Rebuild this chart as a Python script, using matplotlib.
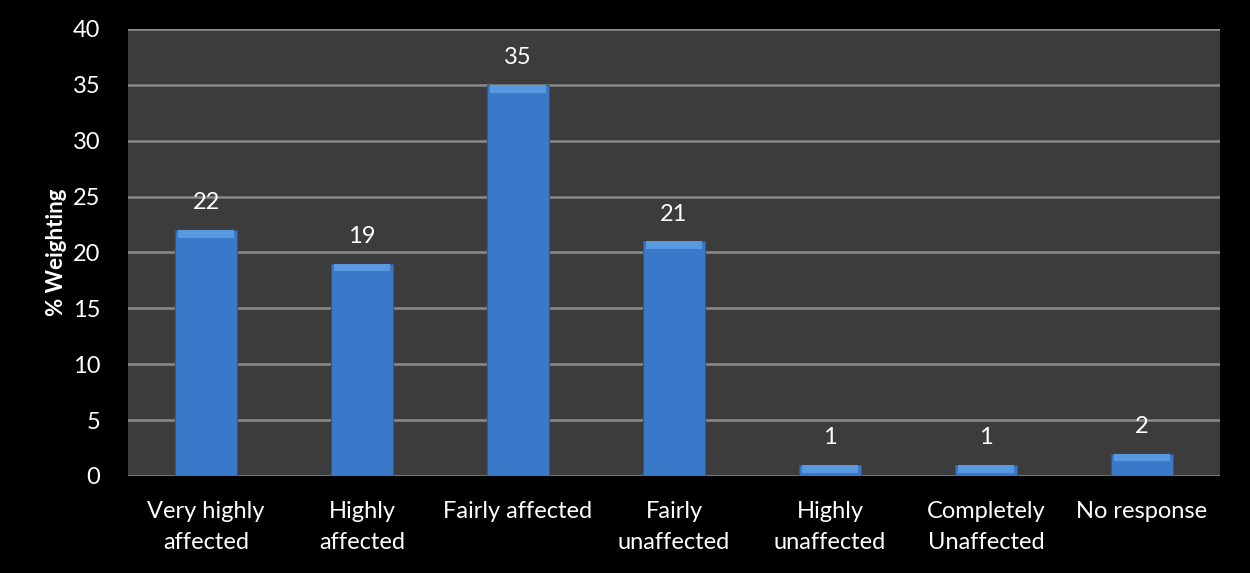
import numpy as np
import matplotlib.pyplot as plt

plt.rcParams['font.family'] = ['Lato', 'DejaVu Sans']

categories = ['Very highly\naffected', 'Highly\naffected', 'Fairly affected',
              'Fairly\nunaffected', 'Highly\nunaffected', 'Completely\nUnaffected',
              'No response']
values = [22, 19, 35, 21, 1, 1, 2]

fig = plt.figure(figsize=(12.5, 5.73), dpi=100, facecolor='black')
ax = fig.add_axes([0.1024, 0.1693, 0.8736, 0.7801])
ax.set_facecolor('#3c3c3c')

x = np.arange(len(categories))
w = 0.4
ax.bar(x, values, width=w, color='#3a78c9', edgecolor='#2a5a9a', linewidth=0.8, zorder=3)
# lighter bevel strip on top of each bar
bevel = [min(v, 0.7) for v in values]
ax.bar(x, bevel, width=w * 0.9, bottom=np.array(values) - np.array(bevel),
       color='#5a98e2', linewidth=0, zorder=4)

for xi, v in zip(x, values):
    ax.annotate(str(v), (xi, v), xytext=(0, 12), textcoords='offset points',
                ha='center', va='bottom', color='white', fontsize=17)

ax.set_xlim(-0.5, len(categories) - 0.5)
ax.set_ylim(0, 40)
ax.set_yticks(range(0, 41, 5))
ax.yaxis.grid(True, color='#8a8a8a', linewidth=1.8, zorder=0)
ax.set_axisbelow(True)
ax.set_xticks(x)
ax.set_xticklabels(categories, linespacing=1.6)
ax.tick_params(colors='white', labelsize=17, length=0)
ax.tick_params(axis='x', pad=18)
ax.tick_params(axis='y', pad=20)
for s in ax.spines.values():
    s.set_visible(False)
ax.set_ylabel('% Weighting', color='white', fontsize=16, fontweight='bold', labelpad=4)

fig.savefig('out.png', dpi=100, facecolor='black')
